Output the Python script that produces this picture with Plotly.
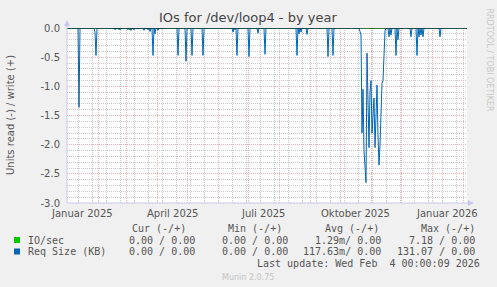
import datetime as dt
import plotly.graph_objects as go

# ---------------- data ----------------
START = dt.date(2025, 1, 1)
N_DAYS = 401

# Req Size (KB) read samples (day offset from START, value); other days are 0
req_days = [12, 28, 29, 48, 50, 53, 61, 64, 67, 71, 77, 81, 83, 86, 88, 91, 95,
            111, 119, 125, 136, 166, 168, 170, 182, 191, 198, 230, 232, 234, 240,
            261, 266, 274, 293,
            294, 295, 296, 297, 298, 299, 300, 301, 302, 303, 304, 305, 306, 307,
            308, 309, 310, 311, 312, 313, 314, 315, 316, 317, 318,
            322, 324, 329, 331, 335, 344, 350, 352, 354, 356, 373]
req_vals = [-1.36, -0.08, -0.47, -0.03, -0.02, -0.03, -0.03, -0.04, -0.03, -0.02, -0.04, -0.03, -0.06, -0.47, -0.10, -0.04, -0.02,
            -0.47, -0.57, -0.47, -0.47, -0.07, -0.03, -0.47, -0.49, -0.09, -0.45, -0.47, -0.10, -0.07, -0.11,
            -0.49, -0.47, -0.01, -0.06,
            -0.12, -1.80, -1.05, -2.10, -2.50, -2.65, -0.43, -1.60, -2.05, -1.10, -0.90, -1.80, -1.35, -1.20,
            -2.05, -1.60, -0.98, -1.85, -2.35, -2.00, -1.55, -0.95, -0.90, -0.50, -0.05,
            -0.15, -0.12, -0.47, -0.20, -0.02, -0.15, -0.47, -0.15, -0.12, -0.15, -0.15]

# IO/sec read samples (day offset, value); other days are 0
io_days = [11, 49, 52, 54, 62, 63, 66, 80, 215, 309]
io_vals = [-0.02, -0.02, -0.03, -0.02, -0.02, -0.03, -0.02, -0.02, -0.01, -0.01]

# axis labels
label_dates = ["2025-01-16", "2025-04-16", "2025-07-16", "2025-10-16", "2026-01-16"]
label_text = ["Januar 2025", "April 2025", "Juli 2025", "Oktober 2025", "Januar 2026"]
y_ticks = [0.0, -0.5, -1.0, -1.5, -2.0, -2.5, -3.0]
y_text = ["0.0", "-0.5", "-1.0", "-1.5", "-2.0", "-2.5", "-3.0"]

# legend table
leg_names = ["IO/sec", "Req Size (KB)"]
leg_colors = ["#00CC00", "#0066B3"]
leg_cur = ["0.00 / 0.00", "0.00 / 0.00"]
leg_min = ["0.00 / 0.00", "0.00 / 0.00"]
leg_avg = ["1.29m/ 0.00", "117.63m/ 0.00"]
leg_max = ["7.18 / 0.00", "131.07 / 0.00"]

# ---------------- build series ----------------
dates = [START + dt.timedelta(days=i) for i in range(N_DAYS)]
req = [0.0] * N_DAYS
for d, v in zip(req_days, req_vals):
    req[d] = v
io = [0.0] * N_DAYS
for d, v in zip(io_days, io_vals):
    io[d] = v

W, H = 497, 287
L, R, T, B = 67, 467, 28, 203


def px(x):
    return (x - L) / (R - L)


def py(y):
    return (B - y) / (B - T)


fig = go.Figure()
fig.add_trace(go.Scatter(x=dates, y=io, mode="lines",
                         line=dict(color=leg_colors[0], width=1), hoverinfo="skip"))
fig.add_trace(go.Scatter(x=dates, y=req, mode="lines",
                         line=dict(color=leg_colors[1], width=1), hoverinfo="skip"))

month_starts = []
y0, m0 = 2025, 2
while (y0, m0) <= (2026, 2):
    month_starts.append(dt.date(y0, m0, 1))
    m0 += 1
    if m0 > 12:
        m0 = 1
        y0 += 1

biweekly = [dt.date(2025, 1, 12) + dt.timedelta(days=14 * k) for k in range(29)]
biweekly = [d for d in biweekly if d <= dt.date(2026, 2, 5)]

y_minor = [-k / 10 for k in range(1, 30) if k % 5 != 0]

GRAY = "#c8c8c8"
RED = "#eeb0b0"
DASH = "1px,1px"

shapes = []
# zero line
shapes.append(dict(type="line", xref="paper", yref="y", x0=0, x1=1, y0=0, y1=0,
                   line=dict(color="#000000", width=1), layer="above"))
axc = "#c8c8ec"
# axes lines with arrows
shapes.append(dict(type="line", xref="paper", yref="paper", x0=0, x1=0, y0=0, y1=py(24),
                   line=dict(color=axc, width=1)))
shapes.append(dict(type="path", xref="paper", yref="paper",
                   path=f"M {px(64)} {py(26)} L {px(70)} {py(26)} L {px(67)} {py(20)} Z",
                   fillcolor=axc, line=dict(color=axc, width=0)))
shapes.append(dict(type="line", xref="paper", yref="paper", x0=0, x1=px(470), y0=0, y1=0,
                   line=dict(color=axc, width=1)))
shapes.append(dict(type="path", xref="paper", yref="paper",
                   path=f"M {px(468)} {py(200)} L {px(468)} {py(206)} L {px(474)} {py(203)} Z",
                   fillcolor=axc, line=dict(color=axc, width=0)))
# legend squares
for i, c in enumerate(leg_colors):
    yc = 240 + i * 11.5
    shapes.append(dict(type="rect", xref="paper", yref="paper",
                       x0=px(14), x1=px(20), y0=py(yc + 3), y1=py(yc - 3),
                       fillcolor=c, line=dict(width=0)))

mono = "DejaVu Sans Mono"
sans = "DejaVu Sans"
tc = "#555555"
ann = []
# x labels
for d, t in zip(label_dates, label_text):
    ann.append(dict(x=d, y=0, xref="x", yref="paper", text=t, showarrow=False,
                    xanchor="center", yanchor="top", yshift=-3,
                    font=dict(family=sans, size=10, color=tc)))
# y title
ann.append(dict(x=px(10), y=py(115), xref="paper", yref="paper",
                text="Units read (-) / write (+)", textangle=-90, showarrow=False,
                xanchor="center", yanchor="middle", font=dict(family=sans, size=10, color=tc)))
# rrdtool watermark
ann.append(dict(x=px(489), y=py(6), xref="paper", yref="paper",
                text="RRDTOOL / TOBI OETIKER", textangle=90, showarrow=False,
                xanchor="center", yanchor="top", font=dict(family=sans, size=8, color="#c8c8c8")))
# legend header
for txt, xr in zip(["Cur (-/+)", "Min (-/+)", "Avg (-/+)", "Max (-/+)"], [188, 284, 381, 477]):
    ann.append(dict(x=px(xr), y=py(228), xref="paper", yref="paper", text=txt,
                    showarrow=False, xanchor="right", yanchor="middle",
                    font=dict(family=mono, size=10, color=tc)))
for i in range(2):
    yc = 240 + i * 11.5
    ann.append(dict(x=px(26), y=py(yc), xref="paper", yref="paper", text=leg_names[i],
                    showarrow=False, xanchor="left", yanchor="middle",
                    font=dict(family=mono, size=10, color=tc)))
    for col, xr in zip([leg_cur, leg_min, leg_avg, leg_max], [197, 290, 383, 477]):
        ann.append(dict(x=px(xr), y=py(yc), xref="paper", yref="paper", text=col[i],
                        showarrow=False, xanchor="right", yanchor="middle",
                        font=dict(family=mono, size=10, color=tc)))
ann.append(dict(x=px(482), y=py(263), xref="paper", yref="paper",
                text="Last update: Wed Feb  4 00:00:09 2026".replace("  ", "&nbsp; "),
                showarrow=False, xanchor="right", yanchor="middle",
                font=dict(family=mono, size=10, color=tc)))
ann.append(dict(x=px(248), y=py(277), xref="paper", yref="paper", text="Munin 2.0.75",
                showarrow=False, xanchor="center", yanchor="middle",
                font=dict(family=sans, size=8, color="#c4c4c4")))
# title
ann.append(dict(x=px(248), y=py(18), xref="paper", yref="paper",
                text="IOs for /dev/loop4 - by year", showarrow=False,
                xanchor="center", yanchor="middle",
                font=dict(family=sans, size=13, color="#444444")))

fig.update_layout(
    width=W, height=H,
    margin=dict(l=L, r=W - R, t=T, b=H - B, pad=0),
    paper_bgcolor="#F0F0F0", plot_bgcolor="#FFFFFF",
    showlegend=False,
    shapes=shapes, annotations=ann,
    xaxis=dict(type="date", range=[dt.datetime(2025, 1, 1), dt.datetime(2026, 2, 5)],
               tickmode="array", tickvals=month_starts,
               showgrid=True, gridcolor=RED, griddash=DASH, gridwidth=1,
               zeroline=False, showline=False,
               showticklabels=False, ticks="",
               minor=dict(tickmode="array", tickvals=biweekly, showgrid=True,
                          gridcolor=GRAY, griddash=DASH, gridwidth=1, ticks="")),
    yaxis=dict(range=[-3.0, 0.0], tickmode="array", tickvals=y_ticks, ticktext=y_text,
               showgrid=True, gridcolor=RED, griddash=DASH, gridwidth=1,
               zeroline=False, showline=False, ticks="", ticklabelstandoff=6,
               tickfont=dict(family=sans, size=10, color=tc),
               minor=dict(tickmode="array", tickvals=y_minor, showgrid=True,
                          gridcolor=GRAY, griddash=DASH, gridwidth=1, ticks="")),
)

fig.write_html("out.html")
